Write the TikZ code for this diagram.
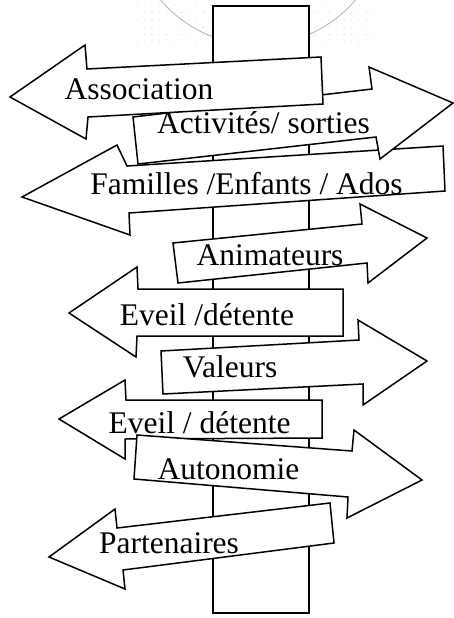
\documentclass[tikz,border=0pt]{standalone}
\usepackage{fontspec}
\setmainfont{Liberation Serif}
\begin{document}
\begin{tikzpicture}[x=1pt,y=-1pt,
  signshape/.style={draw=black, fill=white, line width=1.5pt, line join=miter},
  postshape/.style={draw=black, fill=white, line width=1.5pt},
  signtext/.style={inner sep=0pt, anchor=base, font=\fontsize{31.5}{36}\selectfont}]
\useasboundingbox (0,0) rectangle (454,618);
% background dots and arc
\begin{scope}
\clip (0,0) rectangle (454,618);
\foreach \i in {0,...,32} {
  \foreach \j in {0,...,5} {
    \fill[gray!35] ({137+7.4*\i},{5+7.4*\j}) circle (0.55pt);
  }
}
\draw[gray!60, line width=0.8pt] (258,-83) circle (128);
\end{scope}
% post
\draw[postshape] (213,6) rectangle (309,613);
% arrows (back to front)
\draw[signshape] (49,557) -- (115,509) -- (117,528) -- (330,503) -- (334,543) -- (123,570) -- (125,589) -- cycle;
\draw[signshape] (59,419) -- (125,380) -- (126,400) -- (322,400) -- (322,438) -- (125,439) -- (125,459) -- cycle;
\draw[signshape] (137,435) -- (352,451) -- (354,430) -- (422,480) -- (347,518) -- (348,497) -- (134,479) -- cycle;
\draw[signshape] (161,351) -- (359,340) -- (358,320) -- (427,361) -- (363,405) -- (363,384) -- (163,394) -- cycle;
\draw[signshape] (69,313) -- (137,267) -- (138,289) -- (343,289) -- (343,336) -- (137,336) -- (136,357) -- cycle;
\draw[signshape] (173,243) -- (362,224) -- (360,204) -- (427,238) -- (368,283) -- (367,263) -- (178,283) -- cycle;
\draw[signshape] (22,197) -- (117,145) -- (127,166) -- (443,146) -- (445,191) -- (129,213) -- (130,235) -- cycle;
\draw[signshape] (133,117) -- (372,89) -- (369,67) -- (453,103) -- (380,159) -- (376,137) -- (138,164) -- cycle;
\draw[signshape] (10,97) -- (85,45) -- (87,69) -- (321,57) -- (323,104) -- (88,117) -- (86,139) -- cycle;
% labels
\node[signtext] (t1) at (139,99) {Association};
\node[signtext] (t2) at (263.5,133) {Activités/ sorties};
\node[signtext] (t3) at (246.5,194) {Familles /Enfants / Ados};
\node[signtext] (t4) at (270,265) {Animateurs};
\node[signtext] (t5) at (207,325) {Eveil /détente};
\node[signtext] (t6) at (230,377) {Valeurs};
\node[signtext] (t7) at (199.5,433) {Eveil / détente};
\node[signtext] (t8) at (228.5,479) {Autonomie};
\node[signtext] (t9) at (169,553) {Partenaires};
\end{tikzpicture}
\end{document}
